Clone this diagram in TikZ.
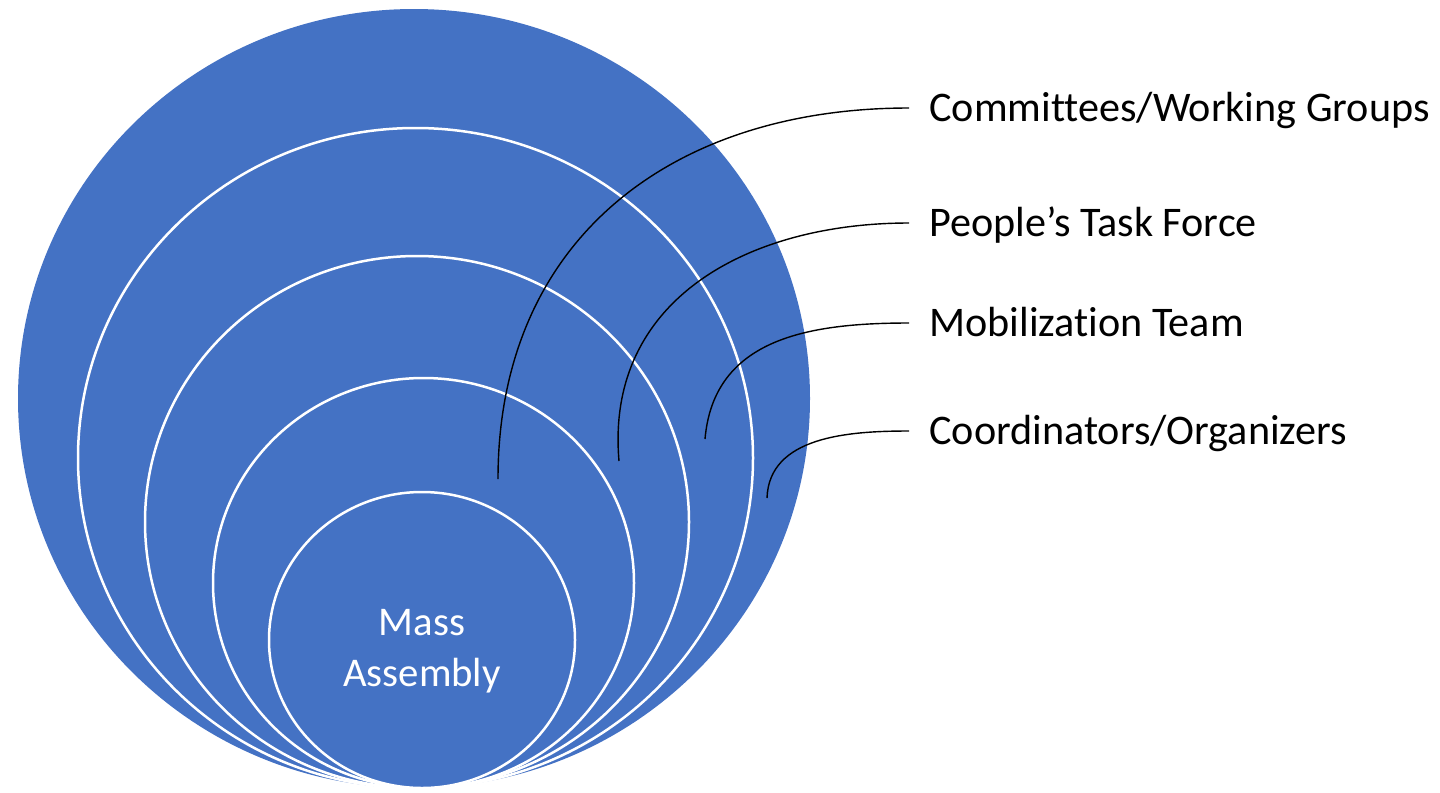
\documentclass[tikz,border=0pt]{standalone}
\usepackage{fontspec}
\setmainfont{Carlito}[Ligatures=CommonOff]
\definecolor{ringblue}{HTML}{4472C4}
\tikzset{
  ring/.style={fill=ringblue, draw=white, line width=0.05cm},
  lbl/.style={anchor=west, inner xsep=0.4cm, text height=17pt, text depth=2pt,
    font=\fontsize{24}{29}\selectfont},
  lead/.style={draw=black, line width=0.8pt},
}
\begin{document}
\begin{tikzpicture}[x=0.02cm, y=-0.02cm]
\useasboundingbox (0,0) rectangle (1440,792);

% outer circle
\path[fill=ringblue] (414,398.5) ellipse [x radius=396, y radius=389.5];

% inner circles
\path[ring] (415.5,458) ellipse [x radius=337.5, y radius=330];
\path[ring] (417,522) ellipse [x radius=272, y radius=266];
\path[ring] (423.5,583) ellipse [x radius=210.5, y radius=205];
\path[ring] (422,640) ellipse [x radius=153, y radius=148];

% centre text
\node[white, align=center, font=\fontsize{23.2}{29}\selectfont] (mass) at (422,651) {Mass\\Assembly};

% start points
\coordinate (c1) at (498,479);
\coordinate (c2) at (619,461);
\coordinate (c3) at (705,439);
\coordinate (c4) at (767,498);

% labels
\node[lbl] (l1) at (909,108) {Committees/Working Groups};
\node[lbl] (l2) at (909,223) {People’s Task Force};
\node[lbl] (l3) at (909,323) {Mobilization Team};
\node[lbl] (l4) at (909,431) {Coordinators/Organizers};

% leaders
\draw[lead] (c1) to[out=90, in=180, looseness=1.1] (l1.west);
\draw[lead] (c2) to[out=95, in=180, looseness=1.1] (l2.west);
\draw[lead] (c3) to[out=85, in=180, looseness=1.1] (l3.west);
\draw[lead] (c4) to[out=88, in=180] (l4.west);

\end{tikzpicture}
\end{document}
